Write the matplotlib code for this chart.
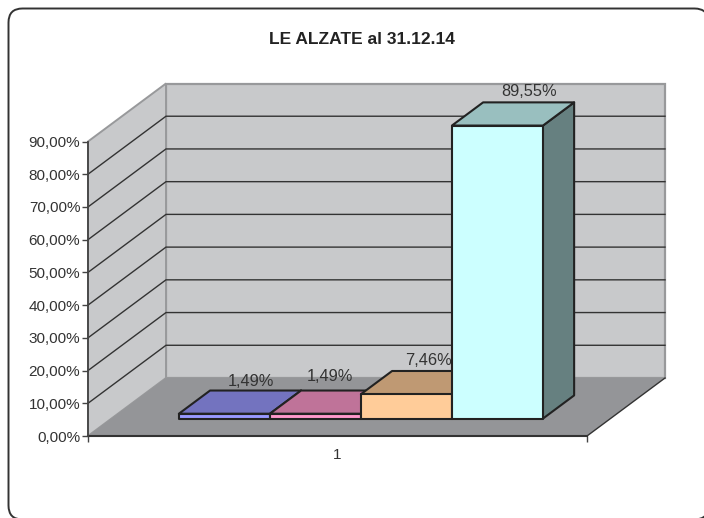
import matplotlib
matplotlib.use("Agg")
import matplotlib.pyplot as plt
from matplotlib.patches import FancyBboxPatch, Polygon

plt.rcParams['font.family'] = ['Liberation Sans', 'DejaVu Sans']

title = "LE ALZATE al 31.12.14"
category = ["1"]
values = [1.49, 1.49, 7.46, 89.55]
value_labels = ["1,49%", "1,49%", "7,46%", "89,55%"]
y_ticks = [0, 10, 20, 30, 40, 50, 60, 70, 80, 90]
y_tick_labels = ["0,00%", "10,00%", "20,00%", "30,00%", "40,00%", "50,00%",
                 "60,00%", "70,00%", "80,00%", "90,00%"]
front_colors = ["#9999FF", "#FF99CC", "#FFCC99", "#CCFFFF"]
top_colors = ["#7373BF", "#BF7399", "#BF9973", "#99BFBF"]
side_colors = ["#4D4D80", "#804D66", "#804D33", "#668080"]
label_shift = [(-4.5, 9.5), (-17, 14), (-9, 10.5), (0, 11)]

W, H = 704, 518
fig = plt.figure(figsize=(W / 100, H / 100), dpi=100, facecolor="white")

# page frame (runs slightly past the right and bottom of the picture)
bg = fig.add_axes([0, 0, 1, 1], zorder=0)
bg.set_xlim(0, W); bg.set_ylim(H, 0); bg.axis("off")
r = 14
bg.add_patch(FancyBboxPatch((8.5 + r, 8.5 + r), 700 - 2 * r, 511 - 2 * r,
                            boxstyle=f"round,pad={r},rounding_size={r}",
                            fc="white", ec="#333333", lw=1.4, clip_on=False))
fig.text(362 / W, 1 - 40 / H, title, ha="center", va="center",
         fontsize=12.5, fontweight="bold", color="#222222")

# front plane of the plot
L, R, Y0, Y90 = 88, 587, 436, 141.5
ax = fig.add_axes([L / W, 1 - Y0 / H, (R - L) / W, (Y0 - Y90) / H], zorder=1)
ax.patch.set_alpha(0)
ax.set_xlim(0, 1)
ax.set_ylim(0, 90)
for s in ["top", "right", "bottom"]:
    ax.spines[s].set_visible(False)
ax.spines["left"].set_color("#444444")
ax.spines["left"].set_linewidth(1.3)

DX = 78 / (R - L)                     # depth in x units
DY = 58 / ((Y0 - Y90) / 90)           # depth in y units


def proj(x, y, d):
    return (x + DX * d, y + DY * d)


def poly(points, **kw):
    ax.add_patch(Polygon(points, closed=True, clip_on=False, **kw))


WALL = "#C8C9CB"
FLOOR = "#949598"
EDGE = "#98999B"
ymax = y_ticks[-1]
# walls and floor
poly([proj(0, 0, 1), proj(1, 0, 1), proj(1, ymax, 1), proj(0, ymax, 1)],
     fc=WALL, ec=EDGE, lw=1.6, zorder=1)
poly([proj(0, 0, 0), proj(0, 0, 1), proj(0, ymax, 1), proj(0, ymax, 0)],
     fc=WALL, ec=EDGE, lw=1.4, zorder=1)
poly([proj(0, 0, 0), proj(1, 0, 0), proj(1, 0, 1), proj(0, 0, 1)],
     fc=FLOOR, ec="none", zorder=1)
# floor edges
ax.plot([0, 1], [0, 0], color="#333333", lw=1.5, clip_on=False, zorder=2)
p0, p1 = proj(1, 0, 0), proj(1, 0, 1)
ax.plot([p0[0], p1[0]], [p0[1], p1[1]], color="#333333", lw=1.0, clip_on=False, zorder=2)
# gridlines
for t in y_ticks[1:-1]:
    a, b, c = proj(0, t, 0), proj(0, t, 1), proj(1, t, 1)
    ax.plot([a[0], b[0], c[0]], [a[1], b[1], c[1]], color="#333333", lw=1.0,
            clip_on=False, zorder=2, solid_joinstyle="miter")

# bars
n = len(values)
bar_w = 0.1824
start = (1 - n * bar_w) / 2
d0, d1 = 0.3, 0.7
for i, v in enumerate(values):
    x0 = start + i * bar_w
    x1 = x0 + bar_w
    style = dict(ec="#222222", lw=1.5, joinstyle="round")
    poly([proj(x1, 0, d0), proj(x1, 0, d1), proj(x1, v, d1), proj(x1, v, d0)],
         fc=side_colors[i], zorder=3 + i, **style)
    poly([proj(x0, v, d0), proj(x1, v, d0), proj(x1, v, d1), proj(x0, v, d1)],
         fc=top_colors[i], zorder=3 + i, **style)
    poly([proj(x0, 0, d0), proj(x1, 0, d0), proj(x1, v, d0), proj(x0, v, d0)],
         fc=front_colors[i], zorder=3 + i, **style)
    cx, cy = proj((x0 + x1) / 2, v, d1)
    ax.annotate(value_labels[i], (cx, cy), xytext=(label_shift[i][0] * 0.72, label_shift[i][1] * 0.72),
                textcoords="offset points", ha="center", va="center",
                fontsize=11.8, color="#333333", zorder=20, annotation_clip=False)

ax.set_yticks(y_ticks)
ax.set_yticklabels(y_tick_labels)
ax.tick_params(axis="y", length=4, width=1, color="#444444", labelsize=11,
               labelcolor="#333333", pad=1.5)
ax.set_xticks([0, 1])
ax.set_xticklabels(["", ""])
ax.tick_params(axis="x", length=4, width=1, color="#444444")
ax.text(0.5, -19 / ((Y0 - Y90) / 90), category[0], ha="center", va="center",
        fontsize=11, color="#333333", clip_on=False)

fig.savefig("out.png", dpi=100, facecolor="white")
